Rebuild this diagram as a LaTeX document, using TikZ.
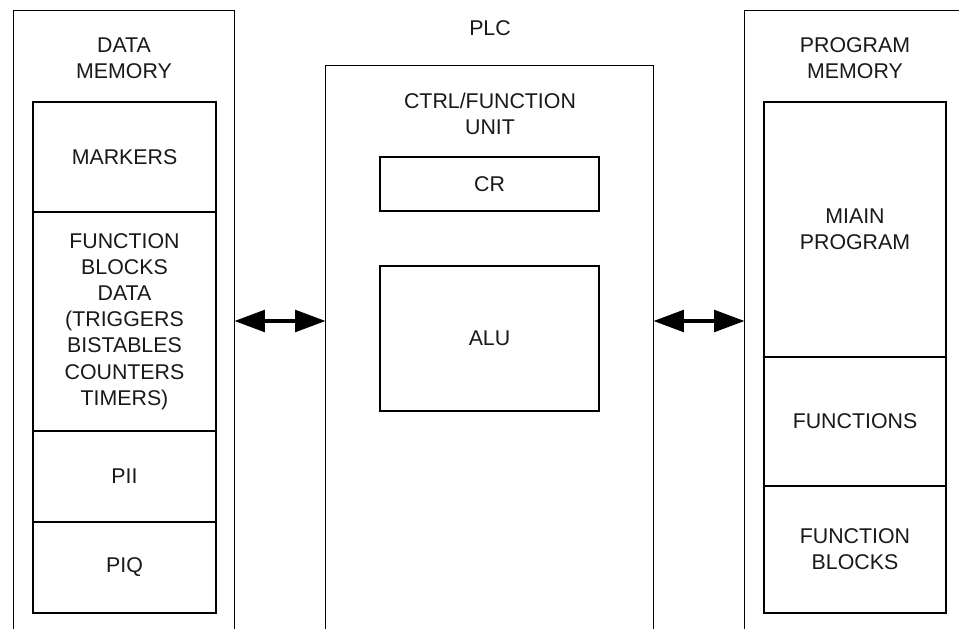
\documentclass[tikz,border=0pt]{standalone}
\usepackage{fontspec}
\setmainfont{Liberation Sans}
\usetikzlibrary{arrows.meta,fit}
\begin{document}
\begin{tikzpicture}[x=0.75pt,y=-0.75pt,
  outer/.style={line width=1pt,draw=black},
  frame/.style={fit={#1},inner sep=0pt,draw=none},
  cell/.style={fit={#1},inner sep=0pt,draw=black,line width=1.3pt},
  lbl/.style={align=center,inner sep=0pt,font=\fontsize{16pt}{19.6pt}\selectfont,text=black!90},
  dbl/.style={line width=3.4pt,{Triangle[length=23pt,width=16pt]}-{Triangle[length=23pt,width=16pt]},shorten <=0pt,shorten >=0pt}]
\useasboundingbox (0,0) rectangle (959,628);
\clip (0,0) rectangle (959,628);
\fill[white] (0,0) rectangle (959,628);
% outer frames (open at the bottom)
\node[frame={(14,11) (234,640)}] (dm) {};
\node[frame={(326,66) (653,640)}] (plc) {};
\node[frame={(745,11) (965,640)}] (pm) {};
\draw[outer] (dm.south west) |- (dm.north east) -- (dm.south east);
\draw[outer] (plc.south west) |- (plc.north east) -- (plc.south east);
\draw[outer] (pm.south west) |- (pm.north east) -- (pm.south east);
% titles
\node[lbl] (dmt) at (124,58.5) {DATA\\MEMORY};
\node[lbl] (plct) at (490,28) {PLC};
\node[lbl] (cfu) at (490,114) {CTRL/FUNCTION\\UNIT};
\node[lbl] (pmt) at (855,58.5) {PROGRAM\\MEMORY};
% data memory cells
\node[cell={(33,102) (216,212)}] (mk) {};
\node[cell={(33,212) (216,431)}] (fbd) {};
\node[cell={(33,431) (216,522)}] (pii) {};
\node[cell={(33,522) (216,613)}] (piq) {};
\node[lbl] at (mk.center) {MARKERS};
\node[lbl] at (fbd.center) {FUNCTION\\BLOCKS\\DATA\\(TRIGGERS\\BISTABLES\\COUNTERS\\TIMERS)};
\node[lbl] at (pii.center) {PII};
\node[lbl] at (piq.center) {PIQ};
% control unit cells
\node[cell={(380,157) (599,211)}] (cr) {};
\node[cell={(380,266) (599,411)}] (alu) {};
\node[lbl] at (cr.center) {CR};
\node[lbl] at (alu.center) {ALU};
% program memory cells
\node[cell={(764,102) (946,357)}] (mp) {};
\node[cell={(764,357) (946,486)}] (fn) {};
\node[cell={(764,486) (946,613)}] (fb) {};
\node[lbl] at (mp.center) {MIAIN\\PROGRAM};
\node[lbl] at (fn.center) {FUNCTIONS};
\node[lbl] at (fb.center) {FUNCTION\\BLOCKS};
% arrows
\coordinate (ay) at (0,321);
\draw[dbl] (dm.east |- ay) -- (plc.west |- ay);
\draw[dbl] (plc.east |- ay) -- (pm.west |- ay);
\end{tikzpicture}
\end{document}
